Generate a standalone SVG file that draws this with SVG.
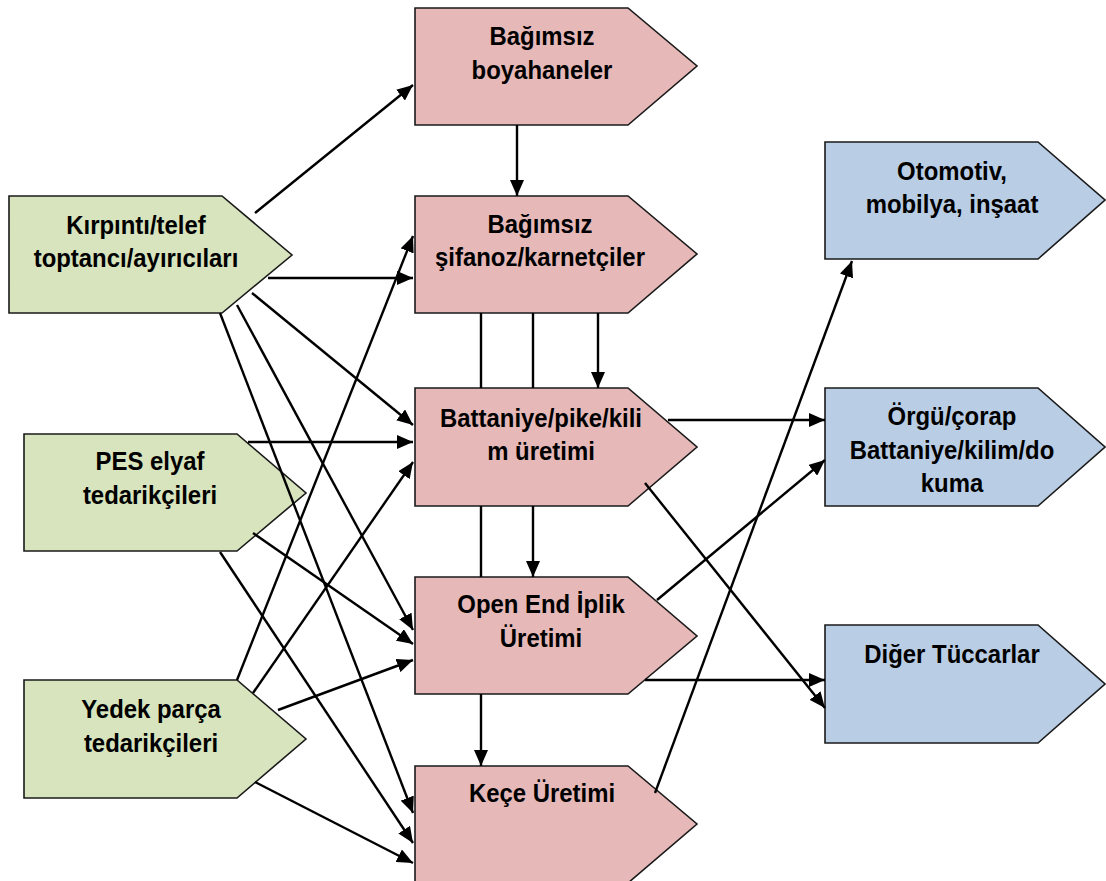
<svg xmlns="http://www.w3.org/2000/svg" width="1106" height="881" viewBox="0 0 1106 881">
<defs>
<marker id="ah" markerUnits="userSpaceOnUse" markerWidth="17" markerHeight="14" refX="16" refY="7" orient="auto">
<path d="M0,0 L16,7 L0,14 Z" fill="#000"/>
</marker>
<style>
.g{fill:#d7e4bd;stroke:#1a1a1a;stroke-width:1.6}
.p{fill:#e6b9b8;stroke:#1a1a1a;stroke-width:1.6}
.b{fill:#b9cde5;stroke:#1a1a1a;stroke-width:1.6}
text{font-family:"Liberation Sans",Arial,sans-serif;font-weight:bold;font-size:26px;fill:#000;text-anchor:middle}
.c line{stroke:#000;stroke-width:2.4}
.a{marker-end:url(#ah)}
</style>
</defs>
<rect width="1106" height="881" fill="#fff"/>
<g id="kirpinti"><polygon class="g" points="9,196 222,196 292,255 222,313 9,313"/><g transform="translate(136,0) scale(0.92,1)"><text x="0" y="234">Kırpıntı/telef</text><text x="0" y="267">toptancı/ayırıcıları</text></g></g>
<g id="pes"><polygon class="g" points="24,434 237,434 306,493 237,551 24,551"/><g transform="translate(150,0) scale(0.92,1)"><text x="0" y="470">PES elyaf</text><text x="0" y="504">tedarikçileri</text></g></g>
<g id="yedek"><polygon class="g" points="24,680 237,680 306,739 237,798 24,798"/><g transform="translate(151,0) scale(0.92,1)"><text x="0" y="718">Yedek parça</text><text x="0" y="752">tedarikçileri</text></g></g>
<g id="boyahaneler"><polygon class="p" points="415,8 628,8 697,66 628,125 415,125"/><g transform="translate(542,0) scale(0.92,1)"><text x="0" y="45">Bağımsız</text><text x="0" y="79">boyahaneler</text></g></g>
<g id="sifanoz"><polygon class="p" points="415,196 628,196 697,254 628,313 415,313"/><g transform="translate(540,0) scale(0.92,1)"><text x="0" y="233">Bağımsız</text><text x="0" y="266">şifanoz/karnetçiler</text></g></g>
<g id="battaniye"><polygon class="p" points="415,388 628,388 697,447 628,506 415,506"/><g transform="translate(541,0) scale(0.92,1)"><text x="0" y="427">Battaniye/pike/kili</text><text x="0" y="460">m üretimi</text></g></g>
<g id="openend"><polygon class="p" points="415,577 628,577 697,636 628,694 415,694"/><g transform="translate(541,0) scale(0.92,1)"><text x="0" y="613">Open End İplik</text><text x="0" y="647">Üretimi</text></g></g>
<g id="kece"><polygon class="p" points="415,766 628,766 697,824 628,883 415,883"/><g transform="translate(542,0) scale(0.92,1)"><text x="0" y="802">Keçe Üretimi</text></g></g>
<g id="otomotiv"><polygon class="b" points="825,142 1038,142 1105,200 1038,259 825,259"/><g transform="translate(952,0) scale(0.92,1)"><text x="0" y="180">Otomotiv,</text><text x="0" y="213">mobilya, inşaat</text></g></g>
<g id="orgu"><polygon class="b" points="825,388 1038,388 1105,447 1038,506 825,506"/><g transform="translate(952,0) scale(0.92,1)"><text x="0" y="425">Örgü/çorap</text><text x="0" y="459">Battaniye/kilim/do</text><text x="0" y="492">kuma</text></g></g>
<g id="diger"><polygon class="b" points="825,625 1038,625 1105,684 1038,743 825,743"/><g transform="translate(952,0) scale(0.92,1)"><text x="0" y="663">Diğer Tüccarlar</text></g></g>
<g class="c" id="connectors">
<line class="a" x1="255" y1="213" x2="413" y2="85"/>
<line class="a" x1="268" y1="278" x2="413" y2="278"/>
<line class="a" x1="252" y1="293" x2="413" y2="425"/>
<line class="a" x1="237" y1="305" x2="413" y2="630"/>
<line class="a" x1="220" y1="313" x2="413" y2="813"/>
<line class="a" x1="248" y1="442" x2="413" y2="442"/>
<line class="a" x1="253" y1="533" x2="413" y2="644"/>
<line class="a" x1="220" y1="552" x2="413" y2="843"/>
<line class="a" x1="237" y1="680" x2="413" y2="236"/>
<line class="a" x1="253" y1="693" x2="413" y2="462"/>
<line class="a" x1="278" y1="710" x2="413" y2="660"/>
<line class="a" x1="255" y1="782" x2="413" y2="863"/>
<line class="a" x1="517" y1="125" x2="517" y2="196"/>
<line x1="481" y1="313" x2="481" y2="388"/>
<line x1="533" y1="313" x2="533" y2="388"/>
<line class="a" x1="598" y1="313" x2="598" y2="388"/>
<line x1="481" y1="506" x2="481" y2="577"/>
<line class="a" x1="533" y1="506" x2="533" y2="577"/>
<line class="a" x1="481" y1="694" x2="481" y2="766"/>
<line class="a" x1="668" y1="420" x2="825" y2="420"/>
<line class="a" x1="645" y1="483" x2="825" y2="708"/>
<line class="a" x1="657" y1="600" x2="825" y2="460"/>
<line class="a" x1="645" y1="680" x2="825" y2="680"/>
<line class="a" x1="655" y1="793" x2="852" y2="261"/>
</g>
</svg>
